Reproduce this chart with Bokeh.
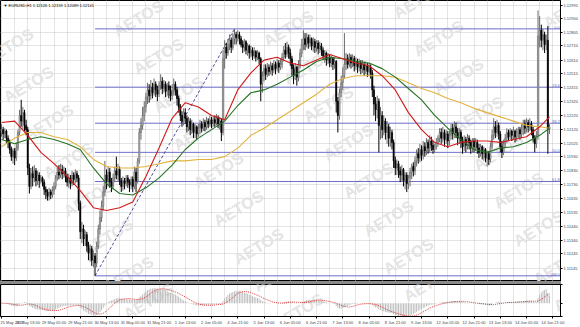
from bokeh.plotting import figure
from bokeh.models import Range1d, FixedTicker, Label, ColumnDataSource, Div, PrintfTickFormatter
from bokeh.layouts import column
from bokeh.embed import file_html
from bokeh.resources import INLINE

# ---------------- data ----------------
header_text = "\u25BC EURUSD,H1  1.12126 1.12159 1.12089 1.12141"
macd_text = "MACD(12,26,9) 0.000853 0.000815"
last_price = 1.12141
first_open = 1.1210

closes = [
 1.1212, 1.1209, 1.1211, 1.1206, 1.1203, 1.1198, 1.1193, 1.1197, 1.1192, 1.1199,
 1.1210, 1.1222, 1.1218, 1.1224, 1.1215, 1.1212, 1.1185, 1.1172, 1.1181, 1.1178,
 1.1183, 1.1176, 1.1180, 1.1176, 1.1178, 1.1175, 1.1170, 1.1168, 1.1165, 1.1168,
 1.1166, 1.1169, 1.1172, 1.1178, 1.1182, 1.1180, 1.1184, 1.1181, 1.1183, 1.1179,
 1.1175, 1.1178, 1.1174, 1.1180, 1.1177, 1.1181, 1.1178, 1.1160, 1.1140, 1.1142,
 1.1135, 1.1138, 1.1130, 1.1125, 1.1128, 1.1120, 1.1123, 1.1118, 1.1130, 1.1142,
 1.1150, 1.1158, 1.1168, 1.1180, 1.1176, 1.1182, 1.1175, 1.1172, 1.1178, 1.1183,
 1.1180, 1.1184, 1.1176, 1.1172, 1.1176, 1.1174, 1.1178, 1.1175, 1.1173, 1.1177,
 1.1172, 1.1182, 1.1176, 1.1190, 1.1210, 1.1215, 1.1222, 1.1228, 1.1235, 1.1240,
 1.1236, 1.1242, 1.1238, 1.1244, 1.1240, 1.1237, 1.1243, 1.1246, 1.1241, 1.1244,
 1.1239, 1.1243, 1.1240, 1.1236, 1.1239, 1.1244, 1.1240, 1.1234, 1.1228, 1.1222,
 1.1218, 1.1224, 1.1220, 1.1214, 1.1218, 1.1212, 1.1216, 1.1210, 1.1214, 1.1209,
 1.1213, 1.1216, 1.1213, 1.1217, 1.1214, 1.1218, 1.1216, 1.1219, 1.1216, 1.1219,
 1.1217, 1.1220, 1.1216, 1.1218, 1.1210, 1.1262, 1.1270, 1.1266, 1.1272, 1.1275,
 1.1270, 1.1276, 1.1279, 1.1277, 1.1279, 1.1276, 1.1272, 1.1270, 1.1274, 1.1268,
 1.1271, 1.1266, 1.1268, 1.1264, 1.1267, 1.1263, 1.1266, 1.1262, 1.1244, 1.1250,
 1.1255, 1.1251, 1.1256, 1.1253, 1.1257, 1.1254, 1.1258, 1.1255, 1.1259, 1.1256,
 1.1258, 1.1263, 1.1268, 1.1265, 1.1270, 1.1266, 1.1262, 1.1255, 1.1250, 1.1256,
 1.1249, 1.1258, 1.1266, 1.1272, 1.1276, 1.1272, 1.1277, 1.1273, 1.1276, 1.1271,
 1.1274, 1.1270, 1.1273, 1.1269, 1.1271, 1.1268, 1.1264, 1.1266, 1.1261, 1.1263,
 1.1259, 1.1262, 1.1258, 1.1260, 1.1232, 1.1222, 1.1238, 1.1245, 1.1250, 1.1258,
 1.1262, 1.1258, 1.1263, 1.1259, 1.1262, 1.1257, 1.1260, 1.1256, 1.1259, 1.1255,
 1.1258, 1.1254, 1.1257, 1.1253, 1.1256, 1.1252, 1.1240, 1.1230, 1.1226, 1.1232,
 1.1215, 1.1222, 1.1212, 1.1218, 1.1210, 1.1214, 1.1206, 1.1210, 1.1203, 1.1190,
 1.1185, 1.1188, 1.1183, 1.1180, 1.1184, 1.1176, 1.1180, 1.1174, 1.1178, 1.1182,
 1.1186, 1.1183, 1.1190, 1.1195, 1.1192, 1.1198, 1.1194, 1.1200, 1.1197, 1.1203,
 1.1199, 1.1204, 1.1201, 1.1198, 1.1200, 1.1203, 1.1206, 1.1210, 1.1206, 1.1210,
 1.1205, 1.1209, 1.1204, 1.1208, 1.1213, 1.1209, 1.1214, 1.1210, 1.1206, 1.1210,
 1.1204, 1.1200, 1.1205, 1.1201, 1.1206, 1.1203, 1.1199, 1.1204, 1.1200, 1.1203,
 1.1199, 1.1196, 1.1200, 1.1195, 1.1198, 1.1192, 1.1195, 1.1191, 1.1200, 1.1208,
 1.1214, 1.1210, 1.1215, 1.1209, 1.1200, 1.1196, 1.1202, 1.1206, 1.1210, 1.1207,
 1.1211, 1.1208, 1.1211, 1.1207, 1.1210, 1.1212, 1.1209, 1.1213, 1.1216, 1.1213,
 1.1217, 1.1214, 1.1216, 1.1212, 1.1206, 1.1202, 1.1208, 1.1278, 1.1282, 1.1275,
 1.1279, 1.1272, 1.1275, 1.12126, 1.12141]

highs = [
 1.1216, 1.1214, 1.1213, 1.1212, 1.1208, 1.1205, 1.1200, 1.1199, 1.1199, 1.1203,
 1.1212, 1.1226, 1.1233, 1.1228, 1.1226, 1.1219, 1.1214, 1.1188, 1.1185, 1.1186,
 1.1187, 1.1185, 1.1183, 1.1182, 1.1180, 1.1179, 1.1177, 1.1172, 1.1170, 1.1171,
 1.1170, 1.1172, 1.1175, 1.1180, 1.1185, 1.1187, 1.1188, 1.1187, 1.1186, 1.1185,
 1.1181, 1.1181, 1.1180, 1.1183, 1.1182, 1.1184, 1.1183, 1.1180, 1.1162, 1.1147,
 1.1145, 1.1141, 1.1140, 1.1133, 1.1131, 1.1130, 1.1127, 1.1125, 1.1133, 1.1145,
 1.1155, 1.1162, 1.1172, 1.1190, 1.1184, 1.1186, 1.1185, 1.1178, 1.1181, 1.1186,
 1.1193, 1.1188, 1.1186, 1.1178, 1.1179, 1.1178, 1.1180, 1.1180, 1.1177, 1.1179,
 1.1179, 1.1186, 1.1185, 1.1192, 1.1213, 1.1220, 1.1228, 1.1232, 1.1238, 1.1245,
 1.1244, 1.1247, 1.1245, 1.1248, 1.1246, 1.1243, 1.1246, 1.1251, 1.1249, 1.1247,
 1.1246, 1.1245, 1.1246, 1.1243, 1.1244, 1.1248, 1.1246, 1.1242, 1.1236, 1.1230,
 1.1225, 1.1227, 1.1227, 1.1222, 1.1221, 1.1220, 1.1219, 1.1217, 1.1216, 1.1215,
 1.1216, 1.1219, 1.1218, 1.1220, 1.1219, 1.1221, 1.1220, 1.1222, 1.1221, 1.1221,
 1.1222, 1.1223, 1.1222, 1.1221, 1.1220, 1.1268, 1.1275, 1.1273, 1.1276, 1.1279,
 1.1277, 1.1280, 1.1283, 1.1281, 1.1282, 1.1281, 1.1278, 1.1275, 1.1276, 1.1275,
 1.1273, 1.1272, 1.1271, 1.1270, 1.1270, 1.1268, 1.1268, 1.1267, 1.1263, 1.1253,
 1.1258, 1.1258, 1.1259, 1.1258, 1.1260, 1.1259, 1.1261, 1.1260, 1.1262, 1.1261,
 1.1262, 1.1266, 1.1271, 1.1273, 1.1274, 1.1272, 1.1269, 1.1264, 1.1258, 1.1259,
 1.1257, 1.1261, 1.1269, 1.1276, 1.1282, 1.1280, 1.1280, 1.1279, 1.1279, 1.1277,
 1.1277, 1.1276, 1.1275, 1.1275, 1.1274, 1.1273, 1.1270, 1.1268, 1.1267, 1.1266,
 1.1265, 1.1264, 1.1263, 1.1263, 1.1261, 1.1235, 1.1241, 1.1250, 1.1256, 1.1280,
 1.1266, 1.1265, 1.1266, 1.1265, 1.1265, 1.1264, 1.1263, 1.1262, 1.1262, 1.1261,
 1.1261, 1.1260, 1.1260, 1.1259, 1.1259, 1.1258, 1.1254, 1.1243, 1.1235, 1.1236,
 1.1234, 1.1228, 1.1225, 1.1222, 1.1220, 1.1218, 1.1216, 1.1214, 1.1212, 1.1205,
 1.1193, 1.1191, 1.1190, 1.1186, 1.1187, 1.1185, 1.1182, 1.1182, 1.1180, 1.1185,
 1.1188, 1.1189, 1.1193, 1.1198, 1.1199, 1.1202, 1.1201, 1.1204, 1.1203, 1.1206,
 1.1205, 1.1208, 1.1207, 1.1204, 1.1202, 1.1206, 1.1208, 1.1213, 1.1213, 1.1214,
 1.1212, 1.1212, 1.1211, 1.1211, 1.1216, 1.1216, 1.1218, 1.1217, 1.1213, 1.1213,
 1.1212, 1.1207, 1.1208, 1.1207, 1.1209, 1.1208, 1.1205, 1.1206, 1.1206, 1.1206,
 1.1205, 1.1202, 1.1202, 1.1201, 1.1200, 1.1199, 1.1197, 1.1197, 1.1203, 1.1212,
 1.1220, 1.1218, 1.1219, 1.1217, 1.1211, 1.1204, 1.1205, 1.1209, 1.1213, 1.1212,
 1.1213, 1.1212, 1.1214, 1.1212, 1.1213, 1.1214, 1.1214, 1.1216, 1.1219, 1.1219,
 1.1220, 1.1219, 1.1220, 1.1218, 1.1214, 1.1208, 1.1211, 1.1296, 1.1292, 1.1286,
 1.1283, 1.1281, 1.1279, 1.1285, 1.12159]

lows = [
 1.1207, 1.1205, 1.1206, 1.1202, 1.1199, 1.1195, 1.1190, 1.1188, 1.1187, 1.1190,
 1.1197, 1.1208, 1.1214, 1.1212, 1.1211, 1.1208, 1.1180, 1.1167, 1.1170, 1.1172,
 1.1175, 1.1172, 1.1173, 1.1171, 1.1174, 1.1172, 1.1166, 1.1163, 1.1162, 1.1162,
 1.1163, 1.1164, 1.1166, 1.1170, 1.1176, 1.1177, 1.1178, 1.1177, 1.1178, 1.1175,
 1.1172, 1.1171, 1.1170, 1.1172, 1.1173, 1.1174, 1.1175, 1.1155, 1.1135, 1.1132,
 1.1130, 1.1130, 1.1126, 1.1120, 1.1119, 1.1116, 1.1115, 1.1109, 1.1115, 1.1128,
 1.1138, 1.1147, 1.1155, 1.1165, 1.1170, 1.1172, 1.1171, 1.1168, 1.1170, 1.1175,
 1.1177, 1.1176, 1.1173, 1.1168, 1.1169, 1.1170, 1.1172, 1.1171, 1.1168, 1.1170,
 1.1168, 1.1170, 1.1168, 1.1174, 1.1188, 1.1205, 1.1212, 1.1218, 1.1224, 1.1230,
 1.1231, 1.1233, 1.1234, 1.1236, 1.1235, 1.1232, 1.1235, 1.1240, 1.1237, 1.1238,
 1.1235, 1.1236, 1.1234, 1.1232, 1.1233, 1.1236, 1.1236, 1.1229, 1.1224, 1.1218,
 1.1214, 1.1215, 1.1216, 1.1210, 1.1211, 1.1208, 1.1209, 1.1206, 1.1206, 1.1205,
 1.1207, 1.1209, 1.1210, 1.1211, 1.1211, 1.1212, 1.1213, 1.1214, 1.1213, 1.1214,
 1.1214, 1.1215, 1.1213, 1.1212, 1.1204, 1.1208, 1.1255, 1.1262, 1.1264, 1.1268,
 1.1266, 1.1268, 1.1272, 1.1272, 1.1274, 1.1272, 1.1270, 1.1266, 1.1267, 1.1265,
 1.1264, 1.1262, 1.1263, 1.1261, 1.1262, 1.1260, 1.1261, 1.1258, 1.1232, 1.1238,
 1.1246, 1.1247, 1.1249, 1.1250, 1.1251, 1.1250, 1.1252, 1.1251, 1.1253, 1.1252,
 1.1254, 1.1255, 1.1260, 1.1262, 1.1263, 1.1262, 1.1257, 1.1250, 1.1244, 1.1247,
 1.1243, 1.1246, 1.1255, 1.1263, 1.1268, 1.1268, 1.1270, 1.1269, 1.1270, 1.1268,
 1.1267, 1.1266, 1.1267, 1.1265, 1.1266, 1.1264, 1.1261, 1.1259, 1.1257, 1.1258,
 1.1256, 1.1256, 1.1254, 1.1255, 1.1224, 1.1210, 1.1219, 1.1235, 1.1240, 1.1248,
 1.1254, 1.1255, 1.1256, 1.1255, 1.1256, 1.1253, 1.1254, 1.1252, 1.1253, 1.1251,
 1.1252, 1.1250, 1.1251, 1.1249, 1.1250, 1.1248, 1.1235, 1.1222, 1.1218, 1.1220,
 1.1196, 1.1205, 1.1206, 1.1208, 1.1205, 1.1202, 1.1200, 1.1200, 1.1198, 1.1185,
 1.1180, 1.1180, 1.1178, 1.1175, 1.1176, 1.1172, 1.1170, 1.1168, 1.1170, 1.1172,
 1.1177, 1.1179, 1.1180, 1.1186, 1.1188, 1.1189, 1.1190, 1.1191, 1.1193, 1.1194,
 1.1195, 1.1196, 1.1197, 1.1195, 1.1196, 1.1198, 1.1200, 1.1203, 1.1202, 1.1203,
 1.1200, 1.1202, 1.1199, 1.1201, 1.1205, 1.1205, 1.1206, 1.1206, 1.1201, 1.1202,
 1.1199, 1.1195, 1.1197, 1.1196, 1.1198, 1.1198, 1.1195, 1.1196, 1.1196, 1.1197,
 1.1195, 1.1192, 1.1193, 1.1191, 1.1190, 1.1189, 1.1186, 1.1187, 1.1189, 1.1198,
 1.1205, 1.1206, 1.1207, 1.1205, 1.1196, 1.1192, 1.1194, 1.1199, 1.1203, 1.1204,
 1.1205, 1.1204, 1.1205, 1.1203, 1.1204, 1.1206, 1.1205, 1.1206, 1.1208, 1.1209,
 1.1210, 1.1210, 1.1211, 1.1208, 1.1203, 1.1196, 1.1199, 1.1205, 1.1270, 1.1270,
 1.1268, 1.1266, 1.1268, 1.1195, 1.12089]

# moving averages every 8 bars
ma_bars = [0, 8, 16, 24, 32, 40, 48, 56, 64, 72, 80, 88, 96, 104, 112, 120, 128, 136,
           144, 152, 160, 168, 176, 184, 192, 200, 208, 216, 224, 232, 240, 248, 256,
           264, 272, 280, 288, 296, 304, 312, 320, 328, 334]
ma_red = [1.1217, 1.1218, 1.1208, 1.1196, 1.1188, 1.1179, 1.1169, 1.1157, 1.1155, 1.1157,
          1.1161, 1.1179, 1.1199, 1.1220, 1.1231, 1.1228, 1.1222, 1.1219, 1.1240, 1.1252,
          1.1261, 1.1263, 1.1259, 1.1257, 1.1261, 1.1265, 1.1262, 1.1259, 1.1257, 1.1250,
          1.1240, 1.1224, 1.1212, 1.1203, 1.1200, 1.1203, 1.1204, 1.1204, 1.1203, 1.1205,
          1.1207, 1.1214, 1.1221]
ma_green = [1.1205, 1.1202, 1.1205, 1.1207, 1.1205, 1.1202, 1.1198, 1.1185, 1.1174, 1.1167,
            1.1166, 1.1171, 1.1178, 1.1187, 1.1198, 1.1206, 1.1212, 1.1218, 1.1229, 1.1238,
            1.1240, 1.1244, 1.1249, 1.1254, 1.1260, 1.1263, 1.1262, 1.1260, 1.1259, 1.1255,
            1.1249, 1.1241, 1.1233, 1.1222, 1.1213, 1.1205, 1.1198, 1.1196, 1.1199, 1.1200,
            1.1203, 1.1208, 1.1213]
ma_yellow = [1.1200, 1.1206, 1.1210, 1.1210, 1.1207, 1.1205, 1.1200, 1.1191, 1.1186, 1.1185,
             1.1185, 1.1186, 1.1188, 1.1190, 1.1190, 1.1191, 1.1191, 1.1193, 1.1199, 1.1208,
             1.1213, 1.1219, 1.1225, 1.1231, 1.1237, 1.1244, 1.1248, 1.1250, 1.1250, 1.1250,
             1.1249, 1.1245, 1.1241, 1.1238, 1.1234, 1.1231, 1.1227, 1.1224, 1.1221, 1.1218,
             1.1215, 1.1214, 1.1213]

# Fibonacci retracement anchors
fib_low_bar, fib_low = 57, 1.1109
fib_high_bar, fib_high = 142, 1.1283
fib_ratios = [0.0, 23.6, 38.2, 50.0, 61.8, 100.0]
fib_labels = ["0.0", "23.6", "38.2", "50.0", "61.8", "100.0"]

price_ticks = [1.12995, 1.12900, 1.12805, 1.12710, 1.12610, 1.12515, 1.12415, 1.12320,
               1.12220, 1.12120, 1.12025, 1.11930, 1.11830, 1.11730, 1.11635, 1.11535,
               1.11440, 1.11340, 1.11245, 1.11145]
time_ticks = [0, 16, 32, 48, 64, 80, 96, 112, 128, 144, 160, 176, 192, 208, 224, 240,
              256, 272, 288, 304, 320, 336]
time_labels = ["25 May 2017", "26 May 13:00", "29 May 05:00", "29 May 21:00", "30 May 13:00",
               "31 May 05:00", "31 May 21:00", "1 Jun 13:00", "2 Jun 05:00", "4 Jun 21:00",
               "5 Jun 13:00", "6 Jun 05:00", "6 Jun 21:00", "7 Jun 13:00", "8 Jun 05:00",
               "8 Jun 21:00", "9 Jun 13:00", "12 Jun 05:00", "12 Jun 21:00", "13 Jun 13:00",
               "14 Jun 05:00", "14 Jun 21:00"]
macd_axis_labels = ["0.002398", "0.00", "-0.001712"]
macd_top, macd_bottom = 0.002398, -0.001712
price_top, price_bottom = 1.13030, 1.11050
watermark = "AETOS"

# ---------------- derived ----------------
n = len(closes)
idx = list(range(n))
opens = [first_open] + closes[:-1]
hi = [max(h, o, c) for h, o, c in zip(highs, opens, closes)]
lo = [min(l, o, c) for l, o, c in zip(lows, opens, closes)]

def ema(vals, period):
    k = 2.0 / (period + 1)
    out = [vals[0]]
    for v in vals[1:]:
        out.append(out[-1] + k * (v - out[-1]))
    return out

e12 = ema(closes, 12)
e26 = ema(closes, 26)
macd = [a - b for a, b in zip(e12, e26)]
signal = []
for i in range(n):
    w = macd[max(0, i - 8):i + 1]
    signal.append(sum(w) / len(w))

fib_levels = [fib_high - r / 100.0 * (fib_high - fib_low) for r in fib_ratios]

FONT = "Liberation Sans"
FS = "4px"
W = 580
RB = 19
H1 = 281
SEP = 3
H2 = 43

# watermark tiling (page pixels, top-left origin)
wm_pos = []
for m in range(-2, 5):
    for k in range(-4, 10):
        wx = 138 + 150 * m + 20 * k
        wy = 18 + 10 * m + 38 * k
        if 5 <= wx <= 585 and 0 <= wy <= 325:
            wm_pos.append((wx, wy))

def add_wm(fig, wx, sy):
    fig.add_layout(Label(x=wx, y=sy, x_units="screen", y_units="screen", text=watermark,
                         angle=31, angle_units="deg", text_align="center",
                         text_baseline="middle", text_font=FONT, text_font_style="bold",
                         text_font_size="16px", text_color="#e4e4e4", level="underlay"))

xr = Range1d(-0.61, 340.7)

p1 = figure(width=W, height=H1, x_range=xr, y_range=Range1d(price_bottom, price_top),
            output_backend="svg", toolbar_location=None, x_axis_location=None,
            y_axis_location="right", min_border_left=0, min_border_right=RB,
            min_border_top=0, min_border_bottom=0, outline_line_color="#000000",
            background_fill_color="white", border_fill_color="white")

for (wx, wy) in wm_pos:
    if wy < H1:
        add_wm(p1, wx, H1 - wy)

p1.xgrid.ticker = FixedTicker(ticks=list(range(0, 341, 8)))
p1.ygrid.ticker = FixedTicker(ticks=price_ticks)
for g in (p1.xgrid, p1.ygrid):
    g.grid_line_color = "#c8c8c8"
    g.grid_line_dash = "1 1"
    g.grid_line_width = 1

ax = p1.yaxis[0]
ax.ticker = FixedTicker(ticks=price_ticks)
ax.formatter = PrintfTickFormatter(format="%.5f")
ax.major_label_text_font_size = FS
ax.major_label_text_font = FONT
ax.major_tick_out = 2
ax.major_tick_in = 0
ax.minor_tick_out = 0
ax.minor_tick_in = 0
ax.major_label_standoff = 1
ax.axis_line_color = "#000000"

# fibonacci
fib_color = "#6e6ec8"
p1.segment(x0=[fib_low_bar] * len(fib_levels), y0=fib_levels,
           x1=[xr.end] * len(fib_levels), y1=fib_levels, line_color=fib_color, line_width=1)
p1.text(x=[xr.end - 0.4] * len(fib_levels), y=fib_levels, text=fib_labels,
        text_align="right", text_baseline="bottom", text_font_size=FS,
        text_color=fib_color)
p1.line([fib_low_bar, fib_high_bar], [fib_low, fib_high], line_color="#50509a",
        line_dash="3 2", line_width=1)

# candles
up = [i for i in idx if closes[i] >= opens[i]]
dn = [i for i in idx if closes[i] < opens[i]]
bull = ColumnDataSource(dict(x=up, h=[hi[i] for i in up], l=[lo[i] for i in up],
                             t=[closes[i] for i in up], b=[opens[i] for i in up]))
bear = ColumnDataSource(dict(x=dn, h=[hi[i] for i in dn], l=[lo[i] for i in dn],
                             t=[opens[i] for i in dn], b=[closes[i] for i in dn]))
p1.segment(x0="x", y0="h", x1="x", y1="l", source=bull, line_color="#6a6a6a", line_width=1)
p1.vbar(x="x", top="t", bottom="b", width=0.7, source=bull, fill_color="#c4c4c4",
        line_color="#6a6a6a", line_width=0.6)
p1.segment(x0="x", y0="h", x1="x", y1="l", source=bear, line_color="#000000", line_width=1)
p1.vbar(x="x", top="t", bottom="b", width=0.7, source=bear, fill_color="#000000",
        line_color="#000000", line_width=0.6)

# moving averages
p1.line(ma_bars, ma_yellow, line_color="#e3b23c", line_width=1.1)
p1.line(ma_bars, ma_green, line_color="#237323", line_width=1.1)
p1.line(ma_bars, ma_red, line_color="#d21818", line_width=1.1)

p1.add_layout(Label(x=3, y=H1 - 2, x_units="screen", y_units="screen", text=header_text,
                    text_baseline="top", text_font=FONT, text_font_size=FS,
                    text_color="#000000"))
p1.add_layout(Label(x=W - RB + 1, y=last_price, x_units="screen", text="1.12141",
                    text_baseline="middle", text_font=FONT, text_font_size=FS,
                    text_color="#ffffff", background_fill_color="#000000",
                    padding=1))
p1.add_layout(Label(x=W - RB + 3, y=0, x_units="screen", y_units="screen", text="1.11050",
                    text_baseline="bottom", text_font=FONT, text_font_size=FS,
                    text_color="#000000"))

sep = Div(text="", width=W - RB, height=SEP, margin=(0, 0, 0, 0),
          styles={"background-color": "#8a8a8a"})

# ---------------- MACD panel ----------------
p2 = figure(width=W, height=H2, x_range=xr, y_range=Range1d(macd_bottom, macd_top),
            output_backend="svg", toolbar_location=None, y_axis_location="right",
            min_border_left=0, min_border_right=RB, min_border_top=0,
            min_border_bottom=11, outline_line_color="#000000",
            background_fill_color="white", border_fill_color="white")
for (wx, wy) in wm_pos:
    if wy >= H1:
        add_wm(p2, wx, H1 + SEP + H2 - wy)
p2.xgrid.ticker = FixedTicker(ticks=list(range(0, 341, 8)))
p2.xgrid.grid_line_color = "#c8c8c8"
p2.xgrid.grid_line_dash = "1 1"
p2.ygrid.grid_line_color = None

p2.vbar(x=idx, top=macd, bottom=0, width=0.55, fill_color="#b9b9b9", line_color=None)
p2.line(idx, signal, line_color="#d83a3a", line_dash="1 1", line_width=1)

xa = p2.xaxis[0]
xa.ticker = FixedTicker(ticks=time_ticks)
xa.major_label_overrides = {t: s for t, s in zip(time_ticks, time_labels)}
xa.major_label_text_align = "left"
xa.major_label_text_font_size = FS
xa.major_label_text_font = FONT
xa.major_tick_out = 2
xa.major_tick_in = 0
xa.minor_tick_out = 0
xa.minor_tick_in = 0
xa.major_label_standoff = 1
xa.axis_line_color = "#000000"

ya = p2.yaxis[0]
ya.ticker = FixedTicker(ticks=[macd_top, 0.0, macd_bottom])
ya.major_label_overrides = {macd_top: "", 0.0: "", macd_bottom: ""}
ya.major_tick_out = 2
ya.major_tick_in = 0
ya.minor_tick_out = 0
ya.minor_tick_in = 0
ya.axis_line_color = "#000000"

p2.add_layout(Label(x=3, y=H2 - 2, x_units="screen", y_units="screen", text=macd_text,
                    text_baseline="top", text_font=FONT, text_font_size=FS,
                    text_color="#000000"))
p2.add_layout(Label(x=W - RB + 1, y=H2 - 2, x_units="screen", y_units="screen",
                    text=macd_axis_labels[0], text_baseline="top", text_font=FONT,
                    text_font_size=FS, text_color="#000000"))
p2.add_layout(Label(x=W - RB + 3, y=0.0, x_units="screen", text=macd_axis_labels[1],
                    text_baseline="middle", text_font=FONT, text_font_size=FS,
                    text_color="#000000"))
p2.add_layout(Label(x=W - RB - 1, y=11, x_units="screen", y_units="screen",
                    text=macd_axis_labels[2], text_baseline="bottom", text_font=FONT,
                    text_font_size=FS, text_color="#000000"))

layout = column(p1, sep, p2, spacing=0)
open("out.html", "w").write(file_html(layout, INLINE))
